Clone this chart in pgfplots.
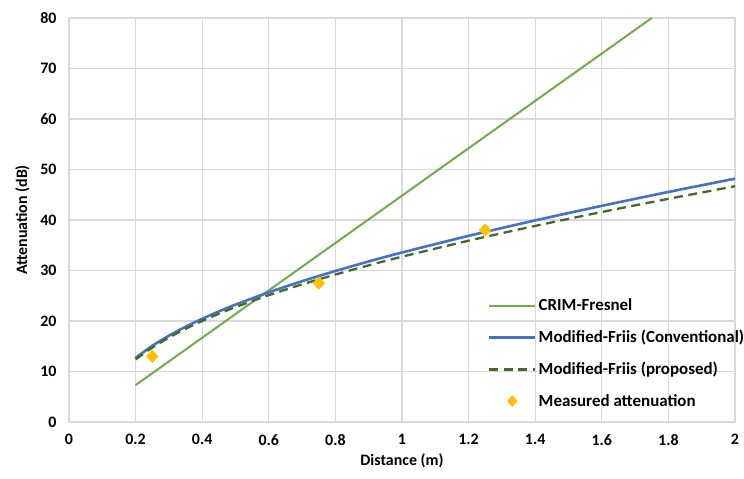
\documentclass[border=0pt]{standalone}
\usepackage{fontspec}
\setmainfont{Carlito}
\usepackage{pgfplots}
\pgfplotsset{compat=1.18}
\definecolor{cgreen}{HTML}{70AD47}
\definecolor{cblue}{HTML}{4472C4}
\definecolor{cdark}{HTML}{426B2A}
\definecolor{cgold}{HTML}{FFC000}
\definecolor{cgrid}{HTML}{D9D9D9}
\begin{document}
\begin{tikzpicture}
\begin{axis}[
  scale only axis,
  width=666bp, height=404bp,
  xmin=0, xmax=2, ymin=0, ymax=80,
  xtick={0,0.2,0.4,0.6,0.8,1,1.2,1.4,1.6,1.8,2}, ytick={0,10,20,30,40,50,60,70,80},
  xticklabels={\textbf{0},\textbf{0.2},\textbf{0.4},\textbf{0.6},\textbf{0.8},\textbf{1},\textbf{1.2},\textbf{1.4},\textbf{1.6},\textbf{1.8},\textbf{2}},
  yticklabels={\textbf{0},\textbf{10},\textbf{20},\textbf{30},\textbf{40},\textbf{50},\textbf{60},\textbf{70},\textbf{80}},
  grid=major,
  major grid style={cgrid, line width=1.3bp},
  axis line style={cgrid, line width=1.3bp},
  tick style={draw=none},
  tick label style={font=\fontsize{16}{18}\selectfont\bfseries},
  xticklabel style={yshift=-9bp},
  yticklabel style={xshift=-9bp},
  xlabel={\textbf{Distance (m)}}, ylabel={\textbf{Attenuation (dB)}},
  label style={font=\fontsize{16}{18}\selectfont\bfseries},
  xlabel style={at={(axis description cs:0.5,-0.07)}, anchor=north},
  ylabel style={at={(axis description cs:-0.054,0.5)}, anchor=south},
  clip=true,
  legend cell align=left,
  legend style={draw=none, fill=none, at={(0.629,0.31)}, anchor=north west,
    inner xsep=0pt, inner ysep=0pt,
    font=\fontsize{17}{20}\selectfont\bfseries, row sep=14bp,
    /tikz/every even column/.append style={column sep=0bp}},
  legend image code/.code={\draw[#1] (0bp,0bp) -- (46bp,0bp);},
]
\coordinate (tl) at (rel axis cs:0,1);
\coordinate (br) at (rel axis cs:1,0);
\addplot[cgreen, line width=2bp] coordinates {(0.2,7.3) (1.75,80)};
\addlegendentry{CRIM-Fresnel}
\addplot[cblue, line width=2.6bp, smooth] coordinates {
(0.2,12.70) (0.25,15.07) (0.3,17.08) (0.35,18.85) (0.4,20.44) (0.45,21.89)
(0.5,23.24) (0.6,25.68) (0.7,27.88) (0.8,29.90) (0.9,31.79) (1.0,33.56)
(1.2,36.86) (1.4,39.92) (1.6,42.80) (1.8,45.55) (2.0,48.18)};
\addlegendentry{Modified-Friis (Conventional)}
\addplot[cdark, line width=2.3bp, dash pattern=on 9bp off 5.5bp, smooth] coordinates {
(0.2,12.40) (0.25,14.73) (0.3,16.71) (0.35,18.45) (0.4,20.01) (0.45,21.43)
(0.5,22.74) (0.6,25.12) (0.7,27.25) (0.8,29.20) (0.9,31.02) (1.0,32.73)
(1.2,35.90) (1.4,38.83) (1.6,41.58) (1.8,44.19) (2.0,46.69)};
\addlegendentry{Modified-Friis (proposed)}
\addplot[only marks, mark=diamond*, mark size=6.3bp, mark options={xscale=1.25}, color=cgold,
  legend image code/.code={\draw[mark repeat=1, mark phase=1, mark size=5.5bp, mark options={xscale=1.2}] plot coordinates {(23bp,0bp)};}]
  coordinates {(0.25,13) (0.75,27.5) (1.25,38)};
\addlegendentry{Measured attenuation}
\end{axis}
\pgfresetboundingbox
\path ([shift={(-69bp,18bp)}]tl) rectangle ([shift={(9bp,-57bp)}]br);
\end{tikzpicture}
\end{document}
